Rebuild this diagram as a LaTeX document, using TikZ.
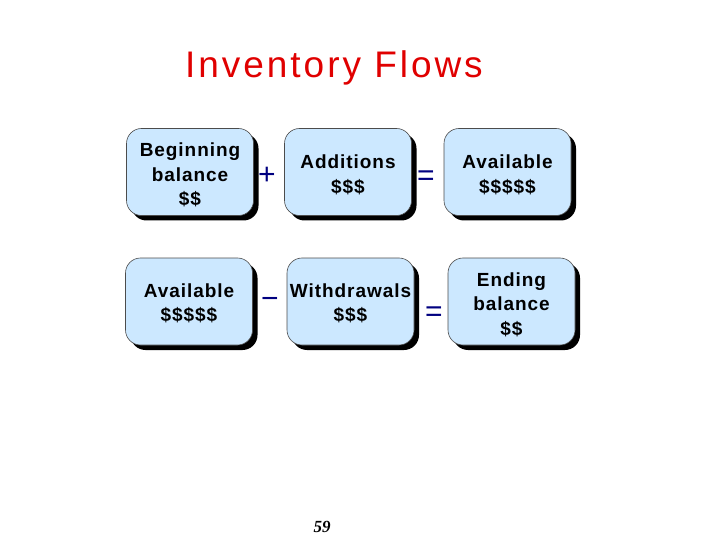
\documentclass[tikz,border=0pt]{standalone}
\usepackage{fontspec}
\setmainfont{Liberation Sans}
\newfontfamily\pagefont{Liberation Serif}
\newfontfamily\titlefont[LetterSpace=8]{Liberation Sans}
\newfontfamily\boxfont[LetterSpace=5]{Liberation Sans}
\usetikzlibrary{shadows}
\definecolor{boxfill}{HTML}{CCE8FF}
\definecolor{titlered}{HTML}{E00000}
\definecolor{opblue}{HTML}{000080}
\begin{document}
\begin{tikzpicture}[x=1pt,y=-1pt,
  flowbox/.style={draw=black!70, line width=0.6pt, fill=boxfill, rounded corners=15pt,
    minimum width=127pt, minimum height=87pt, inner sep=0pt,
    drop shadow={shadow xshift=5pt, shadow yshift=-5pt, fill=black, opacity=1}},
  boxtext/.style={align=center, inner sep=0pt,
    font=\boxfont\fontsize{19}{24.5}\selectfont\bfseries},
  opsign/.style={text=opblue, font=\fontsize{30}{30}\selectfont, inner sep=0pt}]
\useasboundingbox (0,0) rectangle (720,540);
\node[text=titlered, font=\titlefont\fontsize{37}{37}\selectfont, anchor=base] (title) at (334,78) {Inventory Flows};
\node[flowbox] (b1) at (190,172) {};
\node[flowbox] (b2) at (348,172) {};
\node[flowbox] (b3) at (507.5,172) {};
\node[flowbox] (b4) at (189,301.5) {};
\node[flowbox] (b5) at (350.5,301.5) {};
\node[flowbox] (b6) at (511.5,301.5) {};
\node[boxtext] (t1) at ([yshift=-3pt]b1.center) {Beginning\\balance\\\$\$};
\node[boxtext] (t2) at ([yshift=-3pt]b2.center) {Additions\\\$\$\$};
\node[boxtext] (t3) at ([yshift=-3pt]b3.center) {Available\\\$\$\$\$\$};
\node[boxtext] (t4) at ([yshift=-2pt]b4.center) {Available\\\$\$\$\$\$};
\node[boxtext] (t5) at ([yshift=-2pt]b5.center) {Withdrawals\\\$\$\$};
\node[boxtext] (t6) at ([yshift=-3pt]b6.center) {Ending\\balance\\\$\$};
\node[opsign] (p1) at (267,176) {+};
\node[opsign] (e1) at (426,178) {=};
\node[opsign] (m1) at (270,303) {\textminus};
\node[opsign] (e2) at (434,314) {=};
\node[font=\pagefont\fontsize{17}{17}\selectfont\bfseries\itshape] (pg) at (322,527) {59};
\end{tikzpicture}
\end{document}
